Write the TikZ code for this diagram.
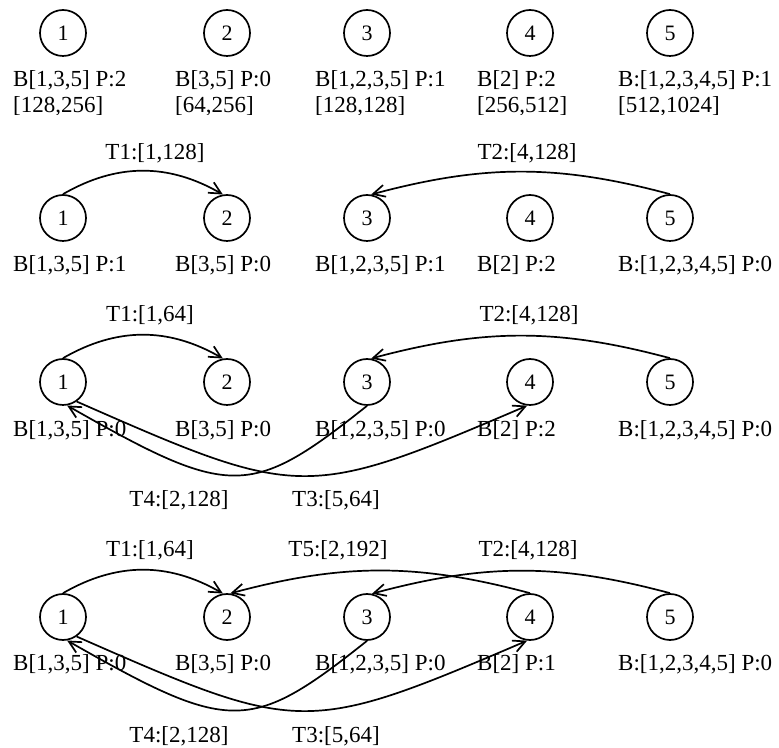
\documentclass[tikz,border=0pt]{standalone}
\usepackage{fontspec}
\setmainfont{Liberation Serif}
\usetikzlibrary{arrows.meta,calc}
\begin{document}
\begin{tikzpicture}[x=1pt,y=1pt,
  st/.style={circle,draw,line width=1.7pt,minimum size=46pt,inner sep=0pt,font=\fontsize{22}{26}\selectfont},
  info/.style={anchor=base west,inner sep=0pt,font=\fontsize{23}{27}\selectfont},
  tl/.style={anchor=base,inner sep=0pt,font=\fontsize{23}{27}\selectfont},
  arr/.style={line width=1.7pt,-{Straight Barb[length=12pt,width=12pt]}},
]
\useasboundingbox (0,0) rectangle (779,747);

% ---------------- Row 1
\node[st] (a1) at (63,714) {1};
\node[st] (a2) at (227,714) {2};
\node[st] (a3) at (367,714) {3};
\node[st] (a4) at (530,714) {4};
\node[st] (a5) at (670,714) {5};
\node[info] (ia1) at (13,660) {B[1,3,5] P:2};
\node[info] (ia2) at (175,660) {B[3,5] P:0};
\node[info] (ia3) at (315,660) {B[1,2,3,5] P:1};
\node[info] (ia4) at (477,660) {B[2] P:2};
\node[info] (ia5) at (618,660) {B:[1,2,3,4,5] P:1};
\begin{scope}
\clip (0,632) rectangle (779,660);
\node[info] (ja1) at (13,634) {[128,256]};
\node[info] (ja2) at (175,634) {[64,256]};
\node[info] (ja3) at (315,634) {[128,128]};
\node[info] (ja4) at (477,634) {[256,512]};
\node[info] (ja5) at (618,634) {[512,1024]};
\end{scope}

% ---------------- Row 2
\node[tl] (lb1) at (155,587) {T1:[1,128]};
\node[tl] (lb2) at (527,587) {T2:[4,128]};
\node[st] (b1) at (63,529) {1};
\node[st] (b2) at (227,529) {2};
\node[st] (b3) at (367,529) {3};
\node[st] (b4) at (530,529) {4};
\node[st] (b5) at (670,529) {5};
\node[info] (ib1) at (13,475) {B[1,3,5] P:1};
\node[info] (ib2) at (175,475) {B[3,5] P:0};
\node[info] (ib3) at (315,475) {B[1,2,3,5] P:1};
\node[info] (ib4) at (477,475) {B[2] P:2};
\node[info] (ib5) at (618,475) {B:[1,2,3,4,5] P:0};
\draw[arr] (b1.north) to[out=30,in=150] (b2.100);
\draw[arr] (b5.north) to[out=165,in=15] (b3.80);

% ---------------- Row 3
\node[tl] (lc1) at (150,425) {T1:[1,64]};
\node[tl] (lc2) at (529,425) {T2:[4,128]};
\node[st] (c1) at (63,365) {1};
\node[st] (c2) at (227,365) {2};
\node[st] (c3) at (367,365) {3};
\node[st] (c4) at (530,365) {4};
\node[st] (c5) at (670,365) {5};
\node[info] (ic1) at (13,310) {B[1,3,5] P:0};
\node[info] (ic2) at (175,310) {B[3,5] P:0};
\node[info] (ic3) at (315,310) {B[1,2,3,5] P:0};
\node[info] (ic4) at (477,310) {B[2] P:2};
\node[info] (ic5) at (618,310) {B:[1,2,3,4,5] P:0};
\node[tl] (lc4) at (179,240) {T4:[2,128]};
\node[tl] (lc3) at (336,240) {T3:[5,64]};
\draw[arr] (c1.north) to[out=30,in=150] (c2.100);
\draw[arr] (c5.north) to[out=165,in=15] (c3.80);
\draw[arr] (c3.south) .. controls ($(c3.south)+(-117,-93)$) and ($(c1.-80)+(163,-93)$) .. (c1.-80);
\draw[arr] (c1.-55) .. controls ($(c1.-55)+(223,-98)$) and ($(c4.-97)+(-222,-95)$) .. (c4.-97);

% ---------------- Row 4
\node[tl] (ld1) at (150,190) {T1:[1,64]};
\node[tl] (ld5) at (338,190) {T5:[2,192]};
\node[tl] (ld2) at (528,190) {T2:[4,128]};
\node[st] (d1) at (63,130) {1};
\node[st] (d2) at (227,130) {2};
\node[st] (d3) at (367,130) {3};
\node[st] (d4) at (530,130) {4};
\node[st] (d5) at (670,130) {5};
\node[info] (id1) at (13,76) {B[1,3,5] P:0};
\node[info] (id2) at (175,76) {B[3,5] P:0};
\node[info] (id3) at (315,76) {B[1,2,3,5] P:0};
\node[info] (id4) at (477,76) {B[2] P:1};
\node[info] (id5) at (618,76) {B:[1,2,3,4,5] P:0};
\node[tl] (ld4) at (179,5) {T4:[2,128]};
\node[tl] (ld3) at (336,5) {T3:[5,64]};
\draw[arr] (d1.north) to[out=30,in=150] (d2.100);
\draw[arr] (d4.north) to[out=165,in=15] (d2.82);
\draw[arr] (d5.north) to[out=165,in=15] (d3.78);
\draw[arr] (d3.south) .. controls ($(d3.south)+(-117,-93)$) and ($(d1.-80)+(163,-93)$) .. (d1.-80);
\draw[arr] (d1.-55) .. controls ($(d1.-55)+(223,-98)$) and ($(d4.-97)+(-222,-95)$) .. (d4.-97);
\end{tikzpicture}
\end{document}
